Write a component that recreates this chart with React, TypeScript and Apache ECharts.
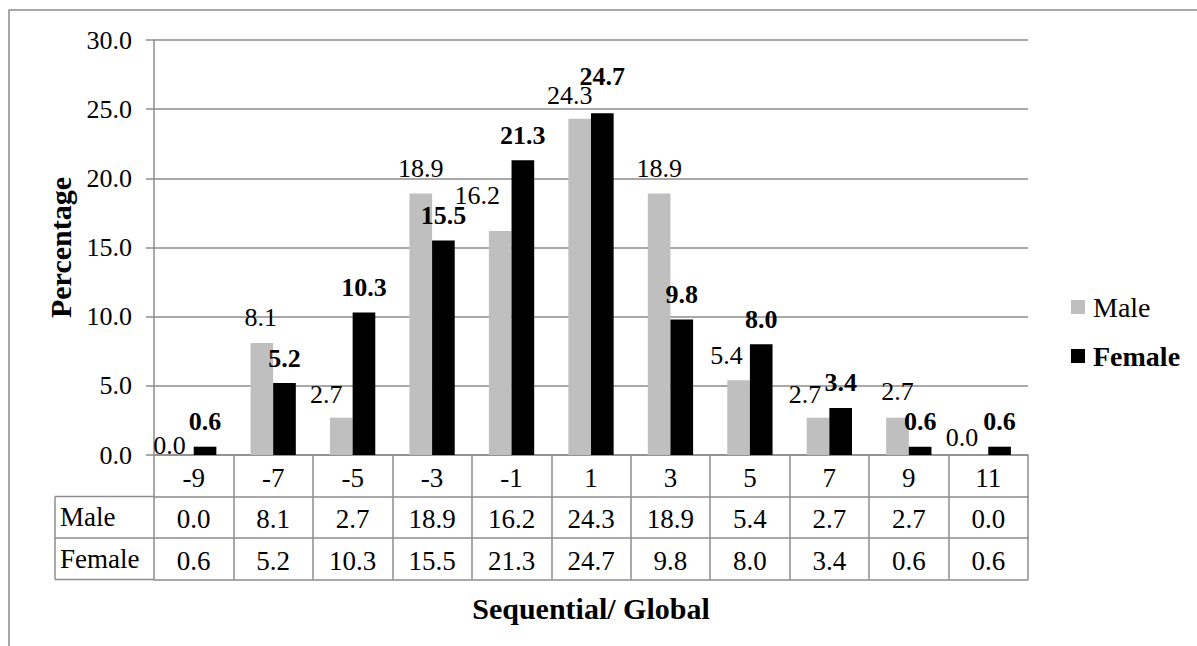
import React, { useEffect, useRef } from 'react';
import * as echarts from 'echarts';

// ---- data ----
const categories = ['-9', '-7', '-5', '-3', '-1', '1', '3', '5', '7', '9', '11'];
const maleValues = [0.0, 8.1, 2.7, 18.9, 16.2, 24.3, 18.9, 5.4, 2.7, 2.7, 0.0];
const femaleValues = [0.6, 5.2, 10.3, 15.5, 21.3, 24.7, 9.8, 8.0, 3.4, 0.6, 0.6];
const seriesNames = ['Male', 'Female'];
const yMin = 0;
const yMax = 30;
const yInterval = 5;

// manual label nudges (label offsets relative to each bar, as in the original)
const maleLabelNudge = [[-13, 15], [-1, 0], [-15, 2], [0, 0], [-23, -10], [-10, 2], [0, 0], [-12, 0], [-13, 2], [0, -1], [-15, 7]];
const femaleLabelNudge = [[0, 0], [0, 0], [0, 0], [0, 0], [0, 0], [0, -12], [0, 0], [0, 0], [0, 0], [0, 0], [0, 0]];

// ---- layout ----
const W = 1197;
const H = 646;
const gridLeft = 154;
const gridRight = 1028;
const gridTop = 40;
const gridBottomY = 455;
const rowH = 41.5;
const headerLeft = 55;
const FONT = 'Liberation Serif';
const LINE = '#8c8c8c';

export default function App() {
  const ref = useRef<HTMLDivElement>(null);

  useEffect(() => {
    if (!ref.current) return;
    const chart = echarts.init(ref.current, undefined, { renderer: 'svg' });

    const fmt = (v: number) => v.toFixed(1);
    const tableAxis = (offset: number, data: string[], showLabel: boolean, extra: any = {}) => ({
      type: 'category',
      data,
      position: 'bottom',
      offset,
      boundaryGap: true,
      axisLine: { show: true, lineStyle: { color: LINE, width: 1.5 } },
      axisTick: { show: false },
      axisLabel: {
        show: showLabel,
        interval: 0,
        margin: 9,
        fontSize: 27,
        fontFamily: FONT,
        color: '#000',
      },
      splitLine: { show: false },
      ...extra,
    });

    const option: any = {
      animation: false,
      backgroundColor: '#fff',
      textStyle: { fontFamily: FONT },
      grid: {
        left: gridLeft,
        right: W - gridRight,
        top: gridTop,
        bottom: H - gridBottomY,
        containLabel: false,
      },
      legend: {
        orient: 'vertical',
        left: 1066,
        top: 288,
        itemWidth: 14,
        itemHeight: 14,
        itemGap: 21,
        icon: 'rect',
        textStyle: { fontSize: 28, fontFamily: FONT, color: '#000', padding: [0, 0, 0, 3] },
        data: [
          { name: seriesNames[0], textStyle: { fontWeight: 'normal' } },
          { name: seriesNames[1], textStyle: { fontWeight: 'bold' } },
        ],
      },
      xAxis: [
        {
          ...tableAxis(0, categories, true),
          axisTick: {
            show: true,
            alignWithLabel: false,
            length: rowH * 3,
            lineStyle: { color: LINE, width: 1.5 },
          },
        },
        tableAxis(rowH, maleValues.map(fmt), true),
        tableAxis(rowH * 2, femaleValues.map(fmt), true),
        tableAxis(rowH * 3, categories, false, {
          name: 'Sequential/ Global',
          nameLocation: 'middle',
          nameGap: 14,
          nameTextStyle: {
            fontSize: 30,
            fontWeight: 'bold',
            fontFamily: FONT,
            color: '#000',
            verticalAlign: 'top',
          },
        }),
      ],
      yAxis: {
        type: 'value',
        min: yMin,
        max: yMax,
        interval: yInterval,
        name: 'Percentage',
        nameLocation: 'middle',
        nameGap: 78,
        nameTextStyle: { fontSize: 30, fontWeight: 'bold', fontFamily: FONT, color: '#000' },
        axisLine: { show: true, lineStyle: { color: LINE, width: 1.5 } },
        axisTick: { show: true, length: 8, lineStyle: { color: LINE, width: 1.5 } },
        axisLabel: {
          margin: 22,
          fontSize: 26,
          fontFamily: FONT,
          color: '#000',
          formatter: (v: number) => v.toFixed(1),
        },
        splitLine: { show: true, lineStyle: { color: LINE, width: 1.5 } },
      },
      series: [
        {
          name: seriesNames[0],
          type: 'bar',
          xAxisIndex: 0,
          barGap: '0%',
          barCategoryGap: '43%',
          itemStyle: { color: '#bfbfbf' },
          label: {
            show: true,
            position: 'top',
            distance: 12,
            fontSize: 26,
            fontFamily: FONT,
            color: '#000',
            formatter: (p: any) => Number(p.value).toFixed(1),
          },
          data: maleValues.map((v, i) => ({ value: v, label: { offset: maleLabelNudge[i] } })),
        },
        {
          name: seriesNames[1],
          type: 'bar',
          xAxisIndex: 0,
          barGap: '0%',
          barCategoryGap: '43%',
          itemStyle: { color: '#000' },
          label: {
            show: true,
            position: 'top',
            distance: 12,
            fontSize: 26,
            fontWeight: 'bold',
            fontFamily: FONT,
            color: '#000',
            formatter: (p: any) => Number(p.value).toFixed(1),
          },
          data: femaleValues.map((v, i) => ({ value: v, label: { offset: femaleLabelNudge[i] } })),
        },
      ],
      graphic: [
        {
          type: 'rect',
          silent: true,
          shape: { x: 9, y: 10, width: 1400, height: 900 },
          style: { fill: 'none', stroke: LINE, lineWidth: 1.5 },
        },
        ...[1, 2, 3].map((k) => ({
          type: 'line',
          silent: true,
          shape: { x1: headerLeft, y1: gridBottomY + rowH * k, x2: gridLeft, y2: gridBottomY + rowH * k },
          style: { stroke: LINE, lineWidth: 1.5 },
        })),
        {
          type: 'line',
          silent: true,
          shape: { x1: headerLeft, y1: gridBottomY + rowH, x2: headerLeft, y2: gridBottomY + rowH * 3 },
          style: { stroke: LINE, lineWidth: 1.5 },
        },
        ...seriesNames.map((n, k) => ({
          type: 'text',
          silent: true,
          x: headerLeft + 5,
          y: gridBottomY + rowH * (k + 1.5),
          style: {
            text: n,
            fontSize: 27,
            fontFamily: FONT,
            fill: '#000',
            align: 'left',
            verticalAlign: 'middle',
          },
        })),
      ],
    };

    chart.setOption(option);
    return () => chart.dispose();
  }, []);

  return (
    <div
      ref={ref}
      style={{ position: 'fixed', left: 0, top: 0, width: W, height: H, background: '#fff' }}
    />
  );
}
